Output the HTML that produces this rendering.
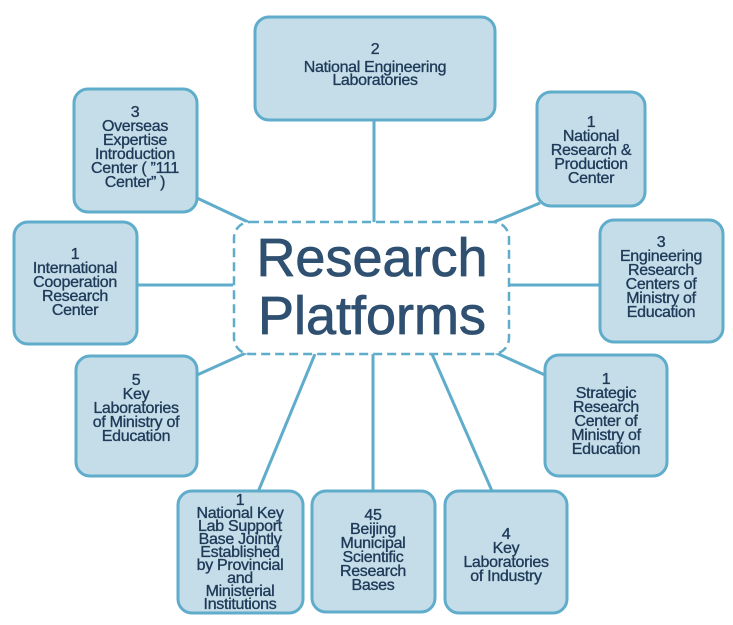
<!DOCTYPE html>
<html><head><meta charset="utf-8"><style>
html,body{margin:0;padding:0;background:#fff;width:733px;height:625px;overflow:hidden}
svg text{font-family:"Liberation Sans",sans-serif;fill:#1f3a58;text-anchor:middle}
.b{fill:#c5dde9;stroke:#5faccb;stroke-width:3}
.l{stroke:#5faccb;stroke-width:3;fill:none}
.t{font-size:16px;letter-spacing:-0.3px;stroke:#1f3a58;stroke-width:0.35px}
</style></head><body>
<svg width="733" height="625" viewBox="0 0 733 625" xmlns="http://www.w3.org/2000/svg">
<g class="l">
<line x1="374" y1="120" x2="374" y2="222"/>
<line x1="197" y1="198" x2="248" y2="222"/>
<line x1="137" y1="285" x2="233" y2="285"/>
<line x1="197" y1="375" x2="248" y2="352"/>
<line x1="258" y1="492" x2="315" y2="354"/>
<line x1="373" y1="491" x2="373" y2="354"/>
<line x1="492" y1="491" x2="432" y2="354"/>
<line x1="545" y1="375" x2="494" y2="352"/>
<line x1="600" y1="285" x2="509" y2="285"/>
<line x1="540" y1="203" x2="494" y2="222"/>
</g>
<rect x="234" y="222" width="275" height="132" rx="16" fill="#fff" stroke="#5faccb" stroke-width="2.5" stroke-dasharray="9,5"/>
<text x="372" y="276" style="font-size:54px;fill:#2f5070;stroke:#2f5070;stroke-width:0.8px">Research</text>
<text x="372" y="334" style="font-size:54px;fill:#2f5070;stroke:#2f5070;stroke-width:0.8px">Platforms</text>

<rect class="b" x="255" y="17" width="240" height="103" rx="14"/>
<text class="t" x="375" y="54">2</text><text class="t" x="375" y="72">National Engineering</text><text class="t" x="375" y="85">Laboratories</text>

<rect class="b" x="74" y="89" width="123" height="123" rx="14"/>
<text class="t" x="135" y="117">3</text><text class="t" x="135" y="131">Overseas</text><text class="t" x="135" y="145">Expertise</text><text class="t" x="135" y="159">Introduction</text><text class="t" x="135" y="173">Center ( ”111</text><text class="t" x="135" y="187">Center” )</text>

<rect class="b" x="14" y="222" width="123" height="122" rx="14"/>
<text class="t" x="75" y="259">1</text><text class="t" x="75" y="273">International</text><text class="t" x="75" y="287">Cooperation</text><text class="t" x="75" y="301">Research</text><text class="t" x="75" y="315">Center</text>

<rect class="b" x="76" y="356" width="121" height="120" rx="14"/>
<text class="t" x="136" y="385">5</text><text class="t" x="136" y="399">Key</text><text class="t" x="136" y="413">Laboratories</text><text class="t" x="136" y="427">of Ministry of</text><text class="t" x="136" y="441">Education</text>

<rect class="b" x="178" y="491" width="125" height="122" rx="14"/>
<text class="t" x="240" y="505">1</text><text class="t" x="240" y="518">National Key</text><text class="t" x="240" y="531">Lab Support</text><text class="t" x="240" y="544">Base Jointly</text><text class="t" x="240" y="557">Established</text><text class="t" x="240" y="570">by Provincial</text><text class="t" x="240" y="583">and</text><text class="t" x="240" y="596">Ministerial</text><text class="t" x="240" y="609">Institutions</text>

<rect class="b" x="312" y="491" width="123" height="121" rx="14"/>
<text class="t" x="373" y="520">45</text><text class="t" x="373" y="534">Beijing</text><text class="t" x="373" y="548">Municipal</text><text class="t" x="373" y="562">Scientific</text><text class="t" x="373" y="576">Research</text><text class="t" x="373" y="590">Bases</text>

<rect class="b" x="445" y="491" width="122" height="122" rx="14"/>
<text class="t" x="506" y="539">4</text><text class="t" x="506" y="553">Key</text><text class="t" x="506" y="567">Laboratories</text><text class="t" x="506" y="581">of Industry</text>

<rect class="b" x="545" y="355" width="122" height="121" rx="14"/>
<text class="t" x="606" y="384">1</text><text class="t" x="606" y="398">Strategic</text><text class="t" x="606" y="412">Research</text><text class="t" x="606" y="426">Center of</text><text class="t" x="606" y="440">Ministry of</text><text class="t" x="606" y="454">Education</text>

<rect class="b" x="600" y="220" width="123" height="122" rx="14"/>
<text class="t" x="661" y="247">3</text><text class="t" x="661" y="261">Engineering</text><text class="t" x="661" y="275">Research</text><text class="t" x="661" y="289">Centers of</text><text class="t" x="661" y="303">Ministry of</text><text class="t" x="661" y="317">Education</text>

<rect class="b" x="537" y="92" width="108" height="114" rx="14"/>
<text class="t" x="591" y="127">1</text><text class="t" x="591" y="141">National</text><text class="t" x="591" y="155">Research &amp;</text><text class="t" x="591" y="169">Production</text><text class="t" x="591" y="183">Center</text>
</svg>
</body></html>
